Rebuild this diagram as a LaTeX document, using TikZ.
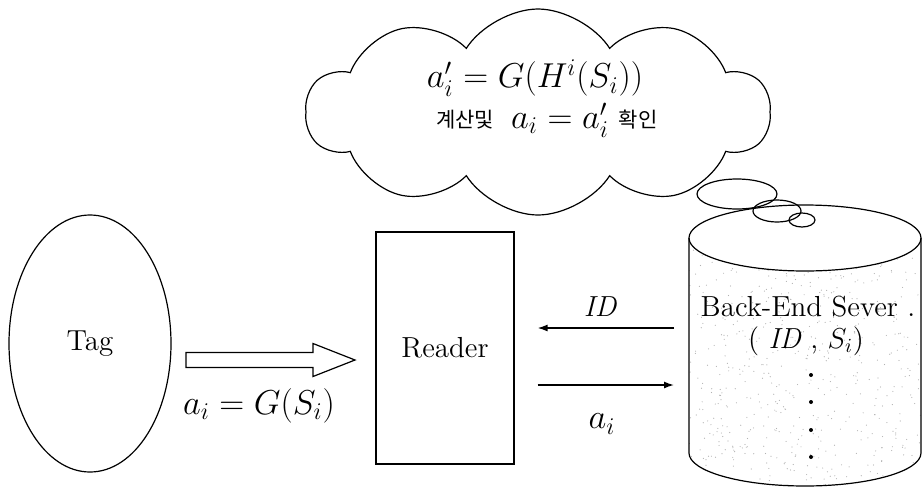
\documentclass[tikz,border=0pt]{standalone}
\usepackage{fontspec}
\newfontfamily\krfont{Noto Sans CJK KR}
\usetikzlibrary{positioning,calc,shapes.geometric,shapes.symbols,arrows.meta}

\tikzset{
  txt/.style={font=\fontsize{14.5}{17}\selectfont},
  lbl/.style={font=\fontsize{16.5}{19}\selectfont},
  kr/.style={font=\krfont\fontsize{10.5}{12}\selectfont},
  msg/.style={line width=0.7pt, -{Latex[length=5pt,width=3.5pt]}},
}

\begin{document}
\begin{tikzpicture}[x=0.5pt, y=-0.5pt, line width=0.6pt]
\useasboundingbox (0,0) rectangle (923,489);

% thought cloud and its bubbles
\node[cloud, draw, cloud puffs=10, cloud puff arc=115, aspect=2.2,
      minimum width=232pt, minimum height=103pt] (thought) at (538,112) {};
\node[lbl] (recalc) at (535,78) {$a'_i = G(H^i(S_i))$};
\node[kr] (calcword) at (465,120) {계산및};
\node[lbl] (cmp) at (560,120) {$a_i = a'_i$};
\node[kr] (checkword) at (638,120) {확인};
\draw (737,194) ellipse [x radius=40, y radius=15];
\draw (777,211) ellipse [x radius=24, y radius=11];
\draw (802,220) ellipse [x radius=13, y radius=7];

% tag
\node[ellipse, draw, txt, minimum width=81pt, minimum height=128.5pt] (tag) at (90,343.5) {Tag};

% reader
\node[draw, txt, minimum width=69pt, minimum height=116pt] (reader) at (445,348) {Reader};

% hollow arrow tag -> reader
\coordinate (ha) at (186,360);
\coordinate (hb) at (355,360);
\draw ($(ha)+(0,-7.5)$) -- ($(hb)+(-42,-7.5)$) -- ($(hb)+(-42,-16.5)$) -- (hb)
      -- ($(hb)+(-42,16.5)$) -- ($(hb)+(-42,7.5)$) -- ($(ha)+(0,7.5)$) -- cycle;
\node[lbl] (sig) at (259,406) {$a_i = G(S_i)$};

% back-end server
\begin{scope}
  \clip (689,238) -- (689,453) arc[start angle=180, end angle=0, x radius=116, y radius=33]
        -- (921,238) arc[start angle=0, end angle=180, x radius=116, y radius=33] -- cycle;
  \pgfmathsetseed{7}
  \foreach \k in {1,...,600}{
    \pgfmathsetmacro\px{689+232*rnd}
    \pgfmathsetmacro\py{238+250*rnd}
    \fill[gray!60] (\px,\py) circle (0.3pt);
  }
\end{scope}
\draw (689,238) -- (689,453) arc[start angle=180, end angle=0, x radius=116, y radius=33] -- (921,238);
\draw (805,238) ellipse [x radius=116, y radius=33];
\node[txt] (srv) at (808,307) {Back-End Sever .};
\node[txt] (db) at (806,341) {( $\mathit{ID}$ , $S_i$)};
\foreach \y in {375,402,430,457}
  \fill (811,\y) circle (1pt);

% messages between reader and server
\coordinate (idsrc) at (674,328);
\coordinate (adst) at (674,385);
\draw[msg, shorten >=11.5pt] (idsrc) -- (reader.east |- idsrc);
\draw[msg, shorten <=11.5pt] (reader.east |- adst) -- (adst);
\node[lbl, font=\fontsize{14.5}{17}\selectfont] (idl) at (600,307) {$\mathit{ID}$};
\node[lbl] (al) at (602,424) {$a_i$};
\end{tikzpicture}
\end{document}
